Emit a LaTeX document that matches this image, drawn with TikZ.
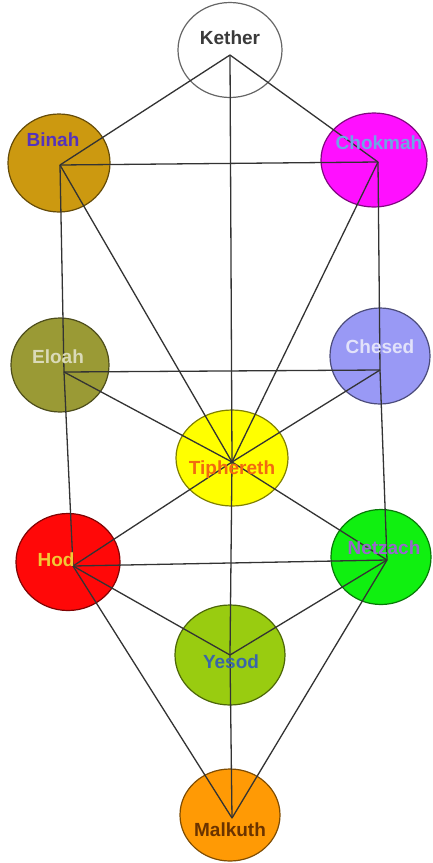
\documentclass[tikz,border=0pt]{standalone}
\usepackage{fontspec}
\setmainfont{Liberation Sans}
\usetikzlibrary{shapes.geometric}
\definecolor{lineC}{HTML}{333333}
\definecolor{kethF}{HTML}{FFFFFF}
\definecolor{binF}{HTML}{CC9910}
\definecolor{choF}{HTML}{FF10FF}
\definecolor{eloF}{HTML}{9A9A35}
\definecolor{cheF}{HTML}{9999F5}
\definecolor{tipF}{HTML}{FFFF00}
\definecolor{hodF}{HTML}{FF0808}
\definecolor{netF}{HTML}{10F010}
\definecolor{yesF}{HTML}{99CC10}
\definecolor{malF}{HTML}{FF9A05}
\definecolor{kethT}{HTML}{3A3A3A}
\definecolor{binT}{HTML}{5533BB}
\definecolor{choT}{HTML}{6FA6E6}
\definecolor{eloT}{HTML}{DADAB8}
\definecolor{cheT}{HTML}{E2E2FA}
\definecolor{tipT}{HTML}{F26A10}
\definecolor{hodT}{HTML}{F2C835}
\definecolor{netT}{HTML}{9966CC}
\definecolor{yesT}{HTML}{3A66A8}
\definecolor{malT}{HTML}{6A3300}
\tikzset{
  sephira/.style={ellipse, draw=#1!50!black, fill=#1, line width=1.2pt, inner sep=0pt},
  path/.style={draw=lineC, line width=1.3pt},
  lbl/.style={font=\fontsize{19}{19}\selectfont\bfseries, text=#1, inner sep=0pt}
}
\begin{document}
\begin{tikzpicture}[x=1pt,y=-1pt]
\useasboundingbox (0,0) rectangle (433,863);
\fill[white] (0,0) rectangle (433,863);
% circles
\node[sephira=kethF, draw=black!60, minimum width=104pt, minimum height=95pt] (keth) at (230,50) {};
\node[sephira=binF, minimum width=102pt, minimum height=98pt] (bin) at (59,163) {};
\node[sephira=choF, minimum width=106pt, minimum height=94pt] (cho) at (374,160) {};
\node[sephira=eloF, minimum width=98pt, minimum height=94pt] (elo) at (60,365) {};
\node[sephira=cheF, minimum width=100pt, minimum height=96pt] (che) at (380,356) {};
\node[sephira=tipF, minimum width=112pt, minimum height=96pt] (tip) at (232,458) {};
\node[sephira=hodF, minimum width=104pt, minimum height=97pt] (hod) at (68,562) {};
\node[sephira=netF, minimum width=100pt, minimum height=95pt] (net) at (381,557) {};
\node[sephira=yesF, minimum width=110pt, minimum height=100pt] (yes) at (230,655) {};
\node[sephira=malF, minimum width=100pt, minimum height=92pt] (mal) at (230,815) {};
% convergence points
\coordinate (kc) at (230,55);
\coordinate (bc) at (60,165);
\coordinate (cc) at (378,162);
\coordinate (ec) at (64,372);
\coordinate (chc) at (380,370);
\coordinate (tc) at (232,462);
\coordinate (hc) at (73,566);
\coordinate (nc) at (387,560);
\coordinate (yc) at (230,655);
\coordinate (mc) at (232,818);
% paths
\draw[path] (kc) -- (bc);
\draw[path] (kc) -- (cc);
\draw[path] (kc) -- (tc);
\draw[path] (bc) -- (cc);
\draw[path] (bc) -- (ec);
\draw[path] (bc) -- (tc);
\draw[path] (cc) -- (chc);
\draw[path] (cc) -- (tc);
\draw[path] (ec) -- (chc);
\draw[path] (ec) -- (tc);
\draw[path] (ec) -- (hc);
\draw[path] (chc) -- (tc);
\draw[path] (chc) -- (nc);
\draw[path] (tc) -- (hc);
\draw[path] (tc) -- (nc);
\draw[path] (tc) -- (yc);
\draw[path] (hc) -- (nc);
\draw[path] (hc) -- (yc);
\draw[path] (hc) -- (mc);
\draw[path] (nc) -- (yc);
\draw[path] (nc) -- (mc);
\draw[path] (yc) -- (mc);
% labels
\node[lbl=kethT] (kethL) at (230,38) {Kether};
\node[lbl=binT] (binL) at (53,140) {Binah};
\node[lbl=choT] (choL) at (379,143) {Chokmah};
\node[lbl=eloT] (eloL) at (58,357) {Eloah};
\node[lbl=cheT] (cheL) at (380,347) {Chesed};
\node[lbl=tipT] (tipL) at (232,470) {Tiphereth};
\node[lbl=hodT] (hodL) at (56,560) {Hod};
\node[lbl=netT] (netL) at (384,548) {Netzach};
\node[lbl=yesT] (yesL) at (231,662) {Yesod};
\node[lbl=malT] (malL) at (230,830) {Malkuth};
\end{tikzpicture}
\end{document}
